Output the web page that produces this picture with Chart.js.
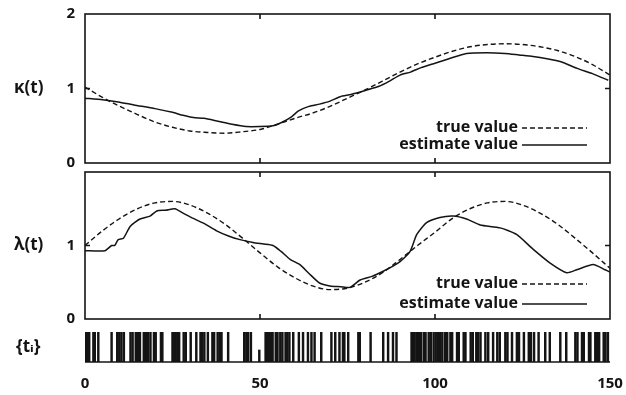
<!DOCTYPE html>
<html><head><meta charset="utf-8">
<script src="https://cdn.jsdelivr.net/npm/chart.js@4.4.1/dist/chart.umd.min.js"></script>
<style>
html,body{margin:0;padding:0;background:#fff;width:626px;height:395px;overflow:hidden;position:relative;}
.p{position:absolute;left:0;}
</style></head><body>
<div class="p" style="top:-6px"><canvas id="c1" width="626" height="189"></canvas></div>
<div class="p" style="top:152px"><canvas id="c2" width="626" height="187"></canvas></div>
<div class="p" style="top:322px"><canvas id="c3" width="640" height="73"></canvas></div>
<script>
// ---------- data ----------
const xTicks = [0, 50, 100, 150];
const yTicks = [0, 1, 2];
const legendLabels = ['true value', 'estimate value'];

const tTrue = [0,5,10,15,20,25,30,35,40,45,50,55,60,65,70,75,80,85,90,95,100,105,110,115,120,125,130,135,140,145,150];
const kappaTrue = [1.02,0.88,0.76,0.65,0.55,0.48,0.43,0.41,0.40,0.42,0.45,0.52,0.60,0.67,0.76,0.87,0.98,1.10,1.22,1.33,1.42,1.50,1.56,1.59,1.60,1.59,1.56,1.51,1.43,1.32,1.18];
const lambdaTrue = [1.00,1.20,1.37,1.50,1.58,1.60,1.55,1.44,1.29,1.10,0.90,0.71,0.56,0.45,0.40,0.42,0.50,0.63,0.81,1.00,1.18,1.37,1.50,1.58,1.60,1.55,1.44,1.29,1.10,0.90,0.69];

const tKappaEst = [0,5,9.5,14,20,25,28,31,34,38,42,46,50,53.7,56,59,61,64,67,70,72.9,76,80.5,84,87,90,93,96,100,104,109,114.8,120,124,128,132,136,140.6,145,149.5];
const kappaEst = [0.87,0.85,0.82,0.78,0.73,0.68,0.64,0.61,0.60,0.56,0.52,0.49,0.49,0.50,0.54,0.62,0.70,0.76,0.79,0.83,0.89,0.92,0.98,1.03,1.10,1.18,1.22,1.28,1.34,1.40,1.47,1.48,1.47,1.45,1.43,1.40,1.36,1.27,1.20,1.11];

const tLambdaEst = [0,5.7,7.6,8.5,9.5,11,12.9,15.7,18.6,20.5,23,25.7,28,30,34,37.6,41,44.3,48,51,53.7,56,58.6,61.4,64,67,70,73,75.7,78.6,82,85.2,88,90,92.9,94.8,97.6,101.4,105.2,109,112.9,118.6,123.3,128,132.9,137.6,140.5,145.2,148.6,150];
const lambdaEst = [0.93,0.93,1.00,1.00,1.08,1.10,1.26,1.36,1.40,1.47,1.48,1.50,1.44,1.39,1.30,1.20,1.13,1.08,1.04,1.02,1.00,0.92,0.81,0.74,0.62,0.49,0.45,0.44,0.43,0.53,0.58,0.65,0.72,0.78,0.92,1.15,1.31,1.38,1.40,1.36,1.28,1.24,1.15,0.95,0.76,0.63,0.67,0.74,0.67,0.64];

const spikeTimes = [0,0.5,1.2,2.4,2.8,3.8,7.6,9.2,9.8,10.4,11.1,13.0,13.6,14.5,15.2,15.7,16.8,17.4,18.0,18.7,19.7,20.2,21.7,22.1,25.0,25.4,25.9,26.4,26.9,28.2,28.8,30.2,31.8,33.0,33.5,34.1,35.1,36.4,36.9,37.9,38.5,39.0,40.9,45.5,46.1,46.6,47.4,49.8,51.6,52.0,52.5,53.1,53.6,54.5,55.0,55.8,56.4,57.3,57.8,58.4,59.5,61.1,62.3,63.7,64.7,65.6,67.5,70.4,71.5,72.7,73.7,74.1,75.2,78.1,78.5,81.6,85.2,86.6,88.0,89.0,93.3,93.7,94.2,94.9,95.4,96.0,96.8,97.3,98.2,98.8,99.6,100.2,100.8,101.5,102.1,102.9,103.5,104.4,104.9,106.3,106.8,108.2,108.7,110.2,110.8,111.8,112.3,113.0,114.4,115.2,116.6,117.8,118.5,120.1,120.7,122.0,123.4,124.0,125.4,126.8,127.4,128.3,129.6,131.5,132.8,135.8,137.5,140.1,140.7,142.0,142.5,144.0,144.4,145.8,146.3,146.9,148.2,148.7,149.4];
const spikeHeights = spikeTimes.map(t => t === 49.8 ? 0.4 : 1);

// ---------- styling ----------
const INK = '#141414';
const FONT = '"Open Sans", "DejaVu Sans", sans-serif';

const panelPlugin = {
  id: 'panel',
  afterDatasetsDraw(chart, args, o) {
    const {ctx, chartArea: a, scales} = chart;
    const x = scales.x, y = scales.y;
    ctx.save();
    ctx.strokeStyle = INK;
    ctx.fillStyle = INK;
    ctx.lineWidth = 1.6;
    if (o.box) {
      ctx.strokeRect(a.left, a.top, a.right - a.left, a.bottom - a.top);
      const tl = 5;
      ctx.beginPath();
      xTicks.forEach(v => {
        const px = x.getPixelForValue(v);
        if (px <= a.left + 1 || px >= a.right - 1) return;
        ctx.moveTo(px, a.top); ctx.lineTo(px, a.top + tl);
        ctx.moveTo(px, a.bottom); ctx.lineTo(px, a.bottom - tl);
      });
      yTicks.forEach(v => {
        const py = y.getPixelForValue(v);
        if (py <= a.top + 1 || py >= a.bottom - 1) return;
        ctx.moveTo(a.left, py); ctx.lineTo(a.left + tl, py);
        ctx.moveTo(a.right, py); ctx.lineTo(a.right - tl, py);
      });
      ctx.stroke();
    } else {
      ctx.beginPath();
      ctx.moveTo(a.left, a.bottom); ctx.lineTo(a.right, a.bottom);
      ctx.stroke();
    }
    ctx.font = 'bold 17px ' + FONT;
    ctx.textAlign = 'left';
    ctx.textBaseline = 'middle';
    ctx.fillText(o.title, o.titleX, o.titleY(a, y));
    if (o.legend) {
      ctx.font = 'bold 16px ' + FONT;
      ctx.textAlign = 'right';
      chart.data.datasets.forEach((ds, i) => {
        const ly = a.bottom - o.legendOffsets[i];
        ctx.fillText(ds.label, a.right - 92, ly);
        ctx.save();
        ctx.lineWidth = 1.4;
        ctx.setLineDash(ds.borderDash || []);
        ctx.beginPath();
        ctx.moveTo(a.right - 88, ly + 1); ctx.lineTo(a.right - 23, ly + 1);
        ctx.stroke();
        ctx.restore();
      });
    }
    ctx.restore();
  }
};

function makePanel(id, tA, vA, tB, vB, title, showTop, legendOffsets) {
  const trueData = tA.map((t, i) => ({x: t, y: vA[i]}));
  const estData = tB.map((t, i) => ({x: t, y: vB[i]}));
  return new Chart(document.getElementById(id), {
    type: 'line',
    data: {
      datasets: [
        {label: legendLabels[0], data: trueData, borderColor: INK, borderWidth: 1.4, borderDash: [5, 3], pointRadius: 0, cubicInterpolationMode: 'monotone'},
        {label: legendLabels[1], data: estData, borderColor: INK, borderWidth: 1.5, pointRadius: 0, tension: 0.2}
      ]
    },
    options: {
      responsive: false, animation: false, devicePixelRatio: 1,
      layout: {padding: {top: 20, bottom: 20, right: 16, left: 0}},
      plugins: {
        legend: {display: false}, tooltip: {enabled: false},
        panel: {box: true, title: title, titleX: 14, titleY: (a, y) => y.getPixelForValue(1), legend: true, legendOffsets: legendOffsets}
      },
      scales: {
        x: {type: 'linear', min: xTicks[0], max: xTicks[xTicks.length - 1], display: false, offset: false, ticks: {display: false}, grid: {display: false}},
        y: {
          type: 'linear', min: yTicks[0], max: yTicks[yTicks.length - 1],
          afterFit: s => { s.width = 85; },
          afterBuildTicks: s => { s.ticks = yTicks.map(v => ({value: v})); },
          grid: {display: false, drawTicks: false},
          border: {display: false},
          ticks: {
            padding: 10, color: INK, font: {family: FONT, size: 15, weight: 'bold'},
            callback: v => (v === 2 && !showTop) ? '' : String(v)
          }
        }
      }
    },
    plugins: [panelPlugin]
  });
}

makePanel('c1', tTrue, kappaTrue, tKappaEst, kappaEst, 'κ(t)', true, [36, 19]);
makePanel('c2', tTrue, lambdaTrue, tLambdaEst, lambdaEst, 'λ(t)', false, [36, 16]);

new Chart(document.getElementById('c3'), {
  type: 'bar',
  data: {datasets: [{label: 'events', data: spikeTimes.map((t, i) => ({x: t, y: spikeHeights[i]})), backgroundColor: INK, borderWidth: 0, barThickness: 1.8}]},
  options: {
    responsive: false, animation: false, devicePixelRatio: 1,
    layout: {padding: {top: 10, bottom: 0, right: 30, left: 85}},
    plugins: {
      legend: {display: false}, tooltip: {enabled: false},
      panel: {box: false, title: '{tᵢ}', titleX: 16, titleY: (a) => (a.top + a.bottom) / 2, legend: false}
    },
    scales: {
      x: {
        type: 'linear', min: xTicks[0], max: xTicks[xTicks.length - 1], offset: false,
        afterBuildTicks: s => { s.ticks = xTicks.map(v => ({value: v})); },
        afterFit: s => { s.height = 33; },
        grid: {display: false, drawTicks: false, offset: false}, border: {display: false},
        ticks: {padding: 13, color: INK, maxRotation: 0, font: {family: FONT, size: 15, weight: 'bold'}}
      },
      y: {type: 'linear', min: 0, max: 1, display: false}
    }
  },
  plugins: [panelPlugin]
});
</script>
</body></html>
